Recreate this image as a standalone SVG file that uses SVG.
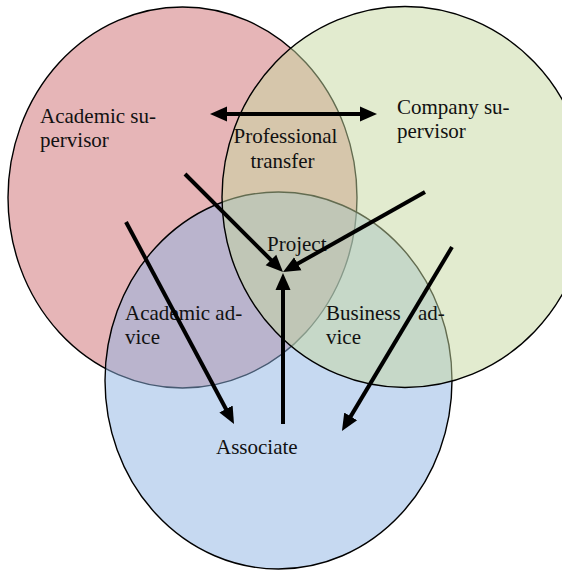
<svg xmlns="http://www.w3.org/2000/svg" width="562" height="571" viewBox="0 0 562 571">
  <style>
    .ring { stroke: #000; stroke-width: 1.4; }
    .lbl { font-family: "Liberation Serif", "Times New Roman", serif; font-size: 21px; fill: #111; }
    .mid { text-anchor: middle; }
    .conn { stroke: #000; stroke-width: 4; fill: none; }
  </style>
  <defs>
    <marker id="head" markerUnits="userSpaceOnUse" markerWidth="18" markerHeight="16" viewBox="0 0 18 16" refX="7" refY="8" orient="auto-start-reverse">
      <path d="M0,0.5 L17,8 L0,15.5 Z" fill="#000"/>
    </marker>
  </defs>

  <rect width="562" height="571" fill="#fff"/>

  <!-- Academic supervisor (bottom layer) -->
  <g id="academic-supervisor">
    <ellipse class="ring" cx="182.5" cy="197.5" rx="174.5" ry="190.5" fill="#e6b5b7"/>
    <text class="lbl" x="40" y="123">Academic su-</text>
    <text class="lbl" x="40" y="147">pervisor</text>
  </g>

  <!-- Associate -->
  <g id="associate">
    <ellipse class="ring" cx="278.5" cy="380.5" rx="173.5" ry="188.5" fill="rgba(141,179,227,0.5)"/>
    <text class="lbl" x="216" y="454">Associate</text>
  </g>

  <!-- Company supervisor (top layer) -->
  <g id="company-supervisor">
    <ellipse class="ring" cx="405" cy="197" rx="183" ry="190.5" fill="rgba(197,215,159,0.5)"/>
    <text class="lbl" x="397" y="114">Company su-</text>
    <text class="lbl" x="397" y="138">pervisor</text>
  </g>

  <!-- Overlap labels -->
  <g id="professional-transfer">
    <text class="lbl mid" x="285.5" y="143">Professional</text>
    <text class="lbl mid" x="282.5" y="168">transfer</text>
  </g>
  <g id="project">
    <text class="lbl" x="267" y="251">Project</text>
  </g>
  <g id="academic-advice">
    <text class="lbl" x="125" y="320">Academic ad-</text>
    <text class="lbl" x="125" y="344">vice</text>
  </g>
  <g id="business-advice">
    <text class="lbl" x="326" y="320">Business</text>
    <text class="lbl" x="418" y="320">ad-</text>
    <text class="lbl" x="326" y="344">vice</text>
  </g>

  <!-- Connectors -->
  <g id="connectors">
    <line class="conn" x1="220" y1="114" x2="367" y2="114" marker-start="url(#head)" marker-end="url(#head)"/>
    <line class="conn" x1="185" y1="174" x2="275.9" y2="264.9" marker-end="url(#head)"/>
    <line class="conn" x1="425" y1="192" x2="291.7" y2="267.1" marker-end="url(#head)"/>
    <line class="conn" x1="283" y1="424" x2="283" y2="283" marker-end="url(#head)"/>
    <line class="conn" x1="126" y1="222" x2="229.3" y2="415.2" marker-end="url(#head)"/>
    <line class="conn" x1="452" y1="247" x2="347.1" y2="422.4" marker-end="url(#head)"/>
  </g>
</svg>
